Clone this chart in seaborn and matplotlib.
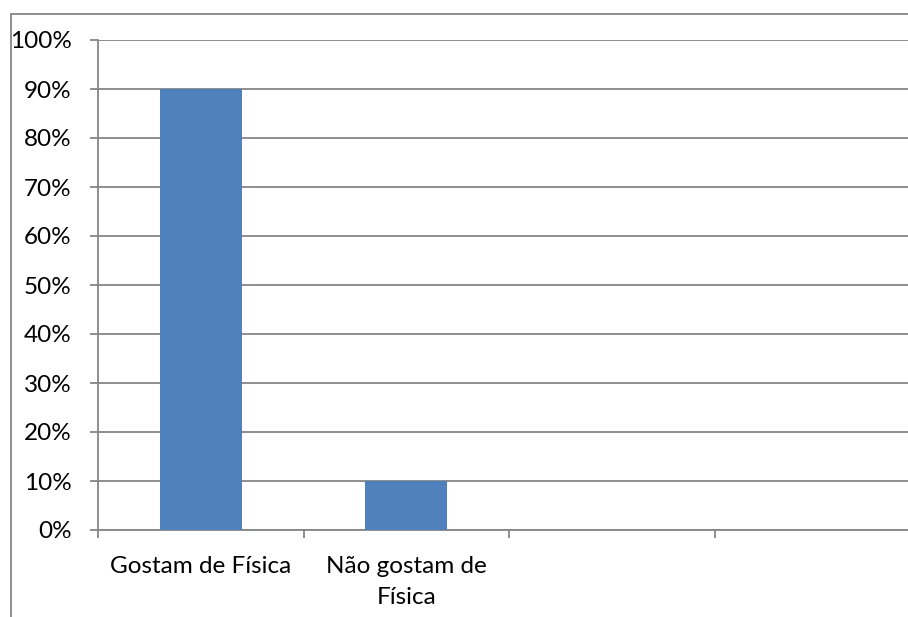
import matplotlib
matplotlib.use("Agg")
import matplotlib.pyplot as plt
import matplotlib.patches as mpatches
from matplotlib.ticker import PercentFormatter, FixedLocator
import seaborn as sns
import pandas as pd

categorias = ["Gostam de Física", "Não gostam de\nFísica"]
percentagens = [0.90, 0.10]
n_slots = 4

sns.set_theme(style="white")
plt.rcParams["font.family"] = ["Lato", "DejaVu Sans"]

W, H = 908, 617
fig = plt.figure(figsize=(W / 100, H / 100), dpi=100)

# plot area in pixel units, converted to figure fractions
left, right, top, bottom = 98, 920, 40, 530
ax = fig.add_axes([left / W, (H - bottom) / H, (right - left) / W, (bottom - top) / H])

df = pd.DataFrame({"categoria": categorias, "valor": percentagens})
sns.barplot(data=df, x="categoria", y="valor", color="#4F81BD", width=0.4,
            saturation=1, linewidth=0, ax=ax, zorder=3)

grid_col = "#868686"
ax.set_xlim(-0.5, n_slots - 0.5)
ax.set_ylim(0, 1)
ax.set_yticks([i / 10 for i in range(11)])
ax.yaxis.set_major_formatter(PercentFormatter(1.0, decimals=0))
ax.yaxis.grid(True, color=grid_col, linewidth=1.3, zorder=0)
ax.set_axisbelow(True)

ax.xaxis.set_minor_locator(FixedLocator([i - 0.5 for i in range(n_slots + 1)]))
ax.tick_params(axis="x", which="major", bottom=True, length=0, pad=19,
               labelsize=17.5, colors="black")
ax.tick_params(axis="x", which="minor", bottom=True, length=6, width=1.3,
               color=grid_col, direction="out")
ax.tick_params(axis="y", which="major", left=True, length=6, width=1.3, color=grid_col,
               direction="out", pad=13, labelsize=17.5, labelcolor="black")
for lbl in ax.get_xticklabels():
    lbl.set_linespacing(1.55)
    lbl.set_horizontalalignment("center")

for side in ["top", "right"]:
    ax.spines[side].set_visible(False)
for side in ["left", "bottom"]:
    ax.spines[side].set_color(grid_col)
    ax.spines[side].set_linewidth(1.3)

ax.set_xlabel("")
ax.set_ylabel("")

# outer chart border
frame = mpatches.Rectangle((10.5 / W, -0.1), 1.2, (H - 14 + 0.1 * H) / H,
                           transform=fig.transFigure, fill=False,
                           edgecolor=grid_col, linewidth=1.3)
fig.patches.append(frame)

fig.savefig("out.png", dpi=100)
